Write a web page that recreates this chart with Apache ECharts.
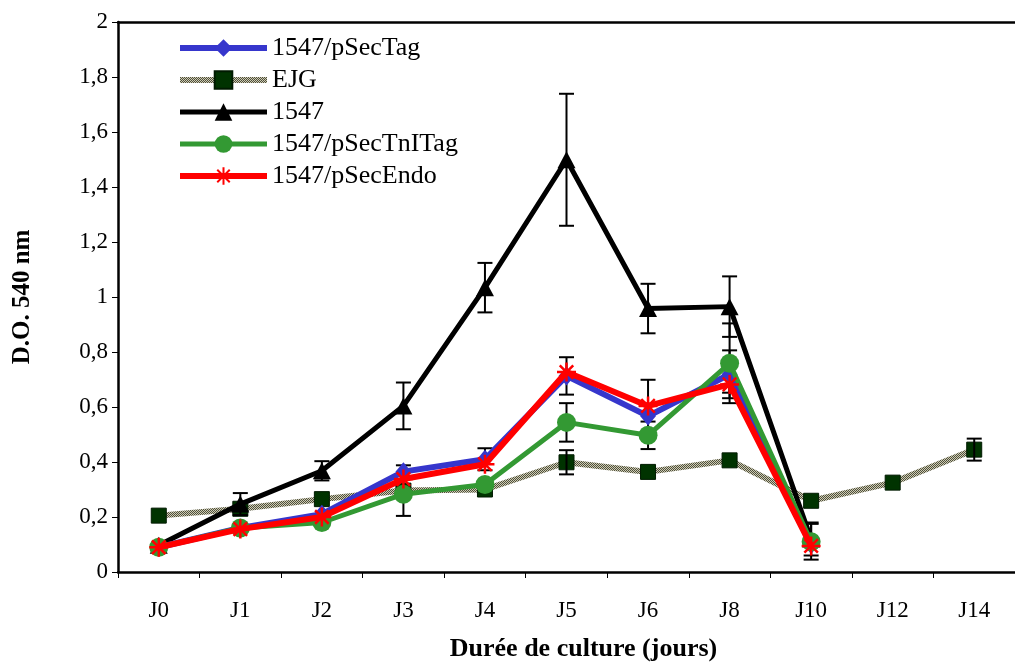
<!DOCTYPE html>
<html>
<head>
<meta charset="utf-8">
<script src="https://cdn.jsdelivr.net/npm/echarts@6/dist/echarts.min.js"></script>
<style>
html,body{margin:0;padding:0;background:#fff;}
#chart{width:1015px;height:667px;}
</style>
</head>
<body>
<div id="chart"></div>
<script>
var categories = ['J0','J1','J2','J3','J4','J5','J6','J8','J10','J12','J14'];
var yTicks = [0, 0.2, 0.4, 0.6, 0.8, 1, 1.2, 1.4, 1.6, 1.8, 2];

var pSecTag    = [0.09, 0.16, 0.21, 0.365, 0.41, 0.713, 0.567, 0.719, 0.10, null, null];
var EJG        = [0.205, 0.23, 0.265, 0.296, 0.30, 0.399, 0.364, 0.406, 0.259, 0.325, 0.445];
var s1547      = [0.097, 0.247, 0.368, 0.604, 1.034, 1.499, 0.958, 0.965, 0.12, null, null];
var pSecTnITag = [0.09, 0.16, 0.18, 0.283, 0.318, 0.544, 0.497, 0.759, 0.11, null, null];
var pSecEndo   = [0.09, 0.156, 0.20, 0.338, 0.392, 0.727, 0.604, 0.682, 0.095, null, null];

var errPSecTag    = [0, 0, 0, 0, 0.04, 0.068, 0, 0.087, 0, 0, 0];
var errEJG        = [0, 0, 0, 0.092, 0, 0.044, 0, 0, 0, 0, 0.04];
var err1547       = [0, 0.04, 0.035, 0.085, 0.09, 0.24, 0.09, 0.11, 0.06, 0, 0];
var errPSecTnITag = [0, 0, 0, 0, 0, 0.07, 0.05, 0.145, 0.065, 0, 0];
var errPSecEndo   = [0, 0, 0, 0, 0, 0, 0.095, 0.03, 0, 0, 0];

var FONT = '"Liberation Serif", "Times New Roman", serif';

// hatched pattern for EJG line
var pc = document.createElement('canvas');
pc.width = 4; pc.height = 4;
var pctx = pc.getContext('2d');
pctx.fillStyle = '#cfcdb2'; pctx.fillRect(0,0,4,4);
pctx.fillStyle = '#4e4e3e';
pctx.fillRect(0,0,1,1); pctx.fillRect(2,0,1,1);
pctx.fillRect(1,1,1,1); pctx.fillRect(3,1,1,1);
pctx.fillRect(0,2,1,1); pctx.fillRect(2,2,1,1);
pctx.fillRect(1,3,1,1); pctx.fillRect(3,3,1,1);
var hatch = {image: pc, repeat: 'repeat'};

function errData(vals, errs) {
  var out = [];
  for (var i = 0; i < vals.length; i++) {
    if (vals[i] != null && errs[i] > 0) out.push([i, vals[i] - errs[i], vals[i] + errs[i]]);
  }
  return out;
}
var allErr = [].concat(
  errData(EJG, errEJG), errData(s1547, err1547), errData(pSecTag, errPSecTag),
  errData(pSecTnITag, errPSecTnITag), errData(pSecEndo, errPSecEndo));

function renderErr(params, api) {
  var x = api.value(0);
  var lo = api.coord([x, api.value(1)]);
  var hi = api.coord([x, api.value(2)]);
  var hw = 7.5;
  var st = {stroke: '#000', lineWidth: 2};
  return {type: 'group', children: [
    {type: 'line', shape: {x1: lo[0], y1: lo[1], x2: hi[0], y2: hi[1]}, style: st},
    {type: 'line', shape: {x1: lo[0]-hw, y1: lo[1], x2: lo[0]+hw, y2: lo[1]}, style: st},
    {type: 'line', shape: {x1: hi[0]-hw, y1: hi[1], x2: hi[0]+hw, y2: hi[1]}, style: st}
  ]};
}

var starPath = 'path://M10,0L10,20M0,10L20,10M2.9,2.9L17.1,17.1M17.1,2.9L2.9,17.1';

var chart = echarts.init(document.getElementById('chart'), null, {renderer: 'canvas'});
chart.setOption({
  animation: false,
  backgroundColor: '#fff',
  grid: {left: 118, top: 22, right: -13, bottom: 94, containLabel: false},
  legend: {
    orient: 'vertical', left: 177, top: 35, padding: 0,
    itemWidth: 87, itemHeight: 22, itemGap: 6,
    lineStyle: {width: 'inherit'},
    textStyle: {fontFamily: FONT, fontSize: 26, color: '#000'},
    data: ['1547/pSecTag', 'EJG', '1547', '1547/pSecTnITag', '1547/pSecEndo']
  },
  xAxis: [{
    type: 'category', data: categories, boundaryGap: true, position: 'bottom',
    axisLine: {lineStyle: {color: '#000', width: 2.5}},
    axisTick: {show: true, interval: 0, length: 6, lineStyle: {color: '#000', width: 1}},
    axisLabel: {fontFamily: FONT, fontSize: 23, color: '#000', margin: 27, interval: 0},
    name: 'Durée de culture (jours)', nameLocation: 'middle', nameGap: 64,
    nameTextStyle: {fontFamily: FONT, fontSize: 26, fontWeight: 'bold', color: '#000', padding: [0,0,0,34]}
  }, {
    type: 'category', data: categories, position: 'top',
    axisLine: {show: true, lineStyle: {color: '#000', width: 2.5}},
    axisTick: {show: false}, axisLabel: {show: false}
  }],
  yAxis: {
    type: 'value', min: 0, max: 2, interval: 0.2,
    axisLine: {show: true, lineStyle: {color: '#000', width: 2.5}},
    axisTick: {show: true, length: 6, lineStyle: {color: '#000', width: 1}},
    splitLine: {show: false},
    axisLabel: {fontFamily: FONT, fontSize: 23, color: '#000', margin: 10,
      formatter: function (v) {
        var t = yTicks.filter(function (k) { return Math.abs(k - v) < 1e-9; });
        return String(t.length ? t[0] : v).replace('.', ',');
      }},
    name: 'D.O. 540 nm', nameLocation: 'middle', nameGap: 83, nameRotate: 90,
    nameTextStyle: {fontFamily: FONT, fontSize: 25, fontWeight: 'bold', color: '#000'}
  },
  series: [
    {name: 'EJG', type: 'line', data: EJG, symbol: 'rect', symbolSize: 15,
     lineStyle: {color: hatch, width: 6},
     itemStyle: {color: '#003300', borderColor: '#001a00', borderWidth: 1}, z: 2},
    {name: 'err', type: 'custom', data: allErr, renderItem: renderErr, z: 3, silent: true,
     encode: {x: 0, y: [1, 2]}},
    {name: '1547', type: 'line', data: s1547, symbol: 'triangle', symbolSize: [18, 17],
     lineStyle: {color: '#000', width: 5}, itemStyle: {color: '#000'}, z: 4},
    {name: '1547/pSecTag', type: 'line', data: pSecTag, symbol: 'diamond', symbolSize: [16, 19],
     lineStyle: {color: '#3636cc', width: 6}, itemStyle: {color: '#3636cc'}, z: 5},
    {name: '1547/pSecTnITag', type: 'line', data: pSecTnITag, symbol: 'circle', symbolSize: 19,
     lineStyle: {color: '#339933', width: 5}, itemStyle: {color: '#339933'}, z: 6},
    {name: '1547/pSecEndo', type: 'line', data: pSecEndo, symbol: starPath, symbolSize: 19,
     lineStyle: {color: '#ff0000', width: 6},
     itemStyle: {color: 'rgba(0,0,0,0)', borderColor: '#ff0000', borderWidth: 2.5}, z: 7}
  ]
});
</script>
</body>
</html>
